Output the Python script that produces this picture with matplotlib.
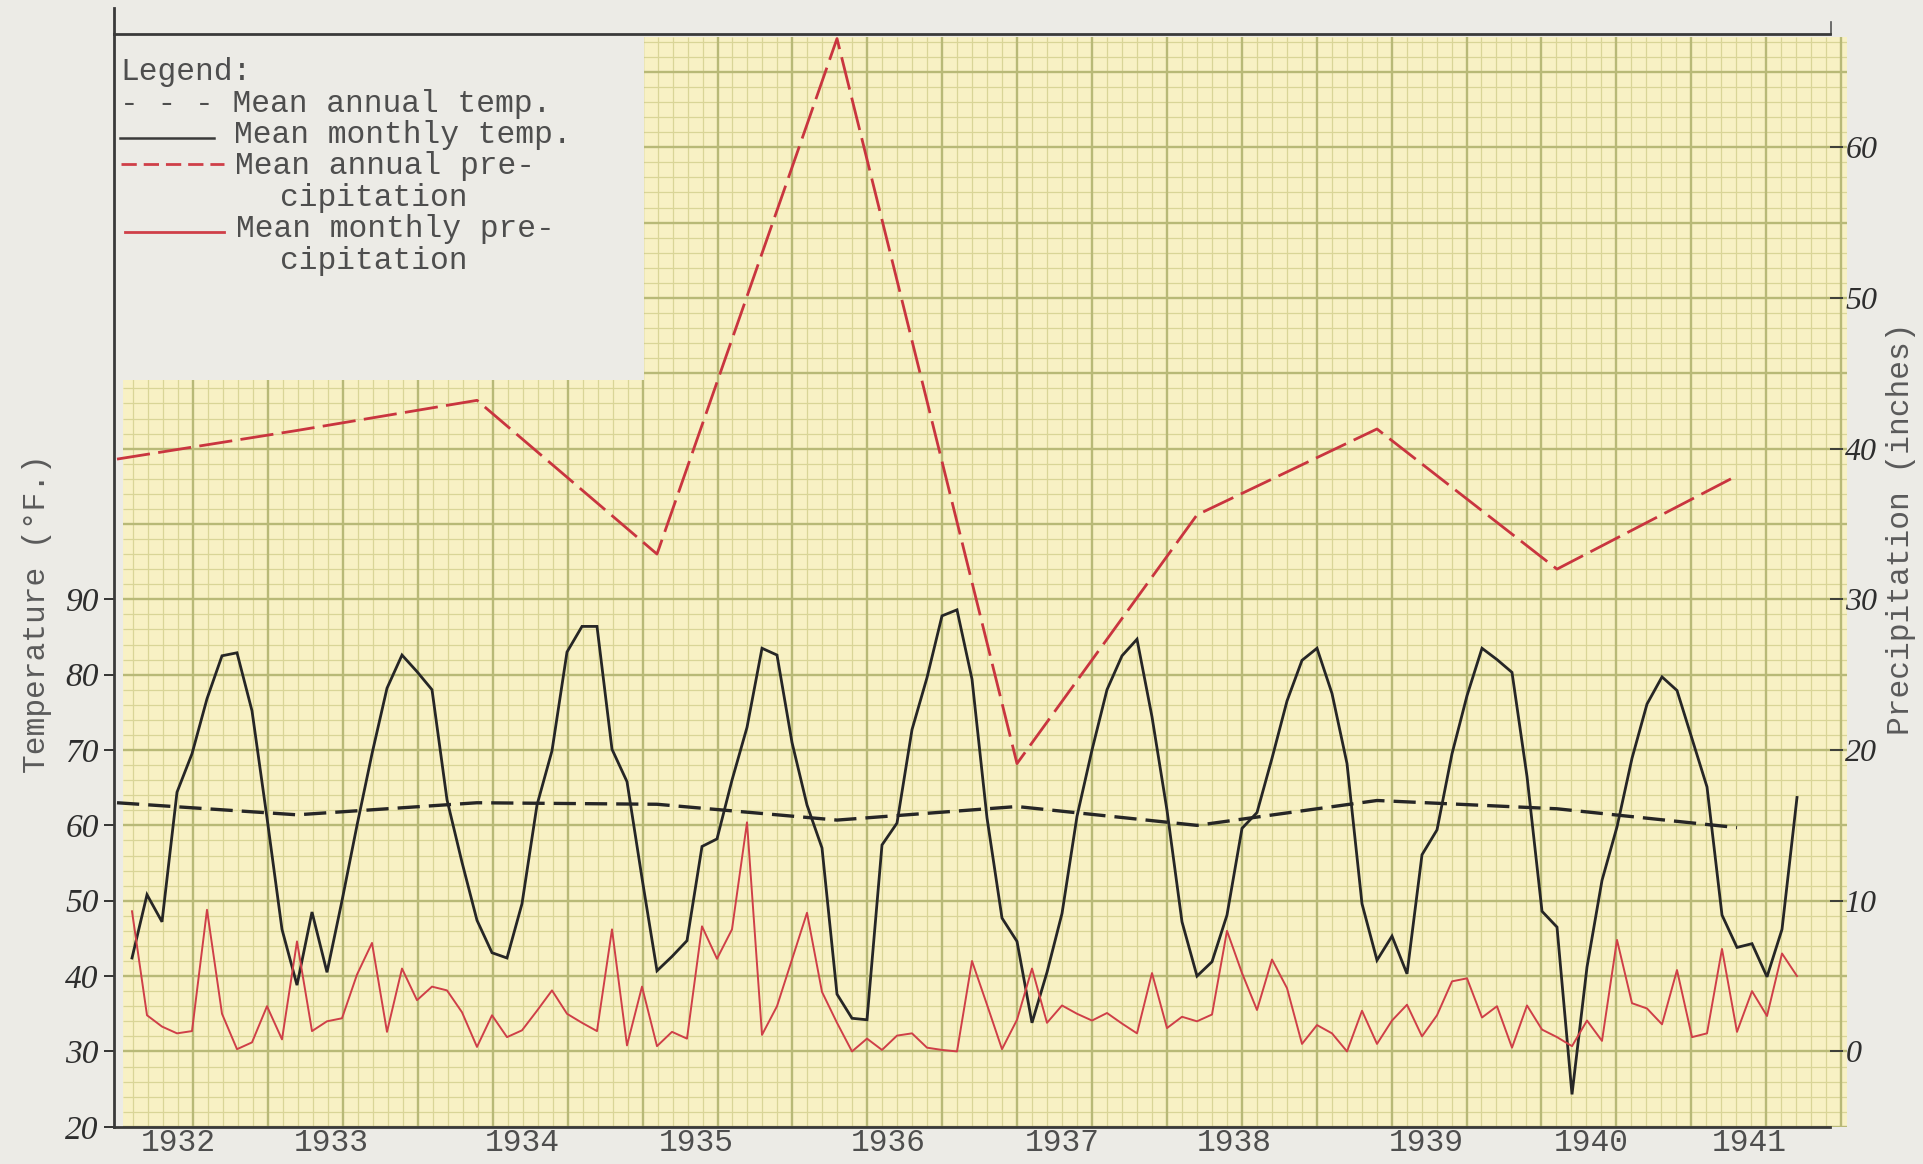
import matplotlib.pyplot as plt
import numpy as np
from matplotlib.patches import Polygon
from matplotlib.collections import LineCollection

plt.rcParams['lines.scale_dashes'] = False

# ---- values ----
# mean monthly temperature (deg F), one value per month, Jan 1932 .. Apr 1941
temp_monthly = [
    42.4, 50.8, 47.2, 64.4, 69.5, 76.8, 82.5, 82.9, 75.2, 61.0, 46.2, 38.8,   # 1932
    48.5, 40.5, 50.0, 60.0, 69.5, 78.2, 82.6, 80.4, 78.0, 63.4, 55.1, 47.4,   # 1933
    43.1, 42.4, 49.6, 62.7, 69.9, 83.0, 86.4, 86.4, 70.1, 65.8, 53.0, 40.7,   # 1934
    42.6, 44.7, 57.2, 58.2, 66.0, 73.0, 83.5, 82.6, 71.0, 62.7, 57.0, 37.6,   # 1935
    34.4, 34.2, 57.4, 60.3, 72.7, 79.6, 87.8, 88.6, 79.4, 61.0, 47.7, 44.6,   # 1936
    33.8, 40.5, 48.3, 61.2, 70.0, 78.0, 82.5, 84.7, 74.4, 62.0, 47.2, 40.0,   # 1937
    41.9, 48.1, 59.6, 61.7, 68.9, 76.5, 81.9, 83.5, 77.5, 68.2, 49.6, 42.1,   # 1938
    45.3, 40.3, 56.1, 59.4, 69.5, 77.2, 83.5, 82.0, 80.3, 66.5, 48.6, 46.5,   # 1939
    24.3, 41.2, 52.7, 59.8, 68.9, 76.1, 79.7, 77.9, 71.5, 65.1, 48.1, 43.8,   # 1940
    44.3, 39.9, 46.2, 63.7,                                                   # 1941
]

# mean monthly precipitation (inches), same months
precip_monthly = [
    9.3, 2.4, 1.65, 1.2, 1.35, 9.4, 2.5, 0.15, 0.6, 3.0, 0.8, 7.3,
    1.35, 2.0, 2.2, 5.1, 7.2, 1.3, 5.5, 3.4, 4.3, 4.05, 2.6, 0.3,
    2.4, 0.95, 1.4, 2.7, 4.05, 2.5, 1.9, 1.35, 8.1, 0.4, 4.3, 0.35,
    1.3, 0.85, 8.3, 6.15, 8.1, 15.2, 1.1, 3.0, 6.1, 9.2, 3.95, 1.9,
    0.0, 0.85, 0.1, 1.05, 1.2, 0.25, 0.1, 0.0, 6.0, 3.1, 0.15, 2.1,
    5.5, 1.9, 3.05, 2.5, 2.05, 2.55, 1.85, 1.2, 5.2, 1.55, 2.3, 2.0,
    2.45, 8.0, 5.2, 2.75, 6.1, 4.2, 0.5, 1.75, 1.2, 0.0, 2.7, 0.5,
    2.05, 3.1, 1.0, 2.4, 4.65, 4.85, 2.25, 3.0, 0.25, 3.05, 1.45, 0.95,
    0.35, 2.05, 0.7, 7.4, 3.2, 2.85, 1.8, 5.4, 0.95, 1.2, 6.8, 1.3,
    4.0, 2.35, 6.5, 5.0,
]

# annual means, plotted at December of each year
annual_years = [1931, 1932, 1933, 1934, 1935, 1936, 1937, 1938, 1939, 1940]
temp_annual = [63.0, 61.4, 63.0, 62.8, 60.7, 62.5, 60.0, 63.3, 62.2, 59.7]
precip_annual = [39.3, 41.2, 43.2, 33.0, 67.2, 19.1, 35.6, 41.3, 32.0, 38.2]

year_labels = ['1932', '1933', '1934', '1935', '1936', '1937', '1938', '1939', '1940', '1941']
year_label_pos = [3.1, 13.3, 26.0, 37.6, 50.4, 62.0, 73.5, 86.3, 97.3, 107.8]  # typed, a bit uneven
temp_ticks = [20, 30, 40, 50, 60, 70, 80, 90]
precip_ticks = [0, 10, 20, 30, 40, 50, 60]

# ---- layout (pixels of the 1923x1164 sheet) ----
W, H = 1923, 1164
X0, DX = 132, 15.0          # pixel of Jan 1932, pixels per month
Y20, DY = 1126.8, 7.536     # pixel of 20 F, pixels per degree F
L, R, TOP = 114, 1830, 34

MONO = 'Liberation Mono'
HAND = 'Liberation Serif'
TYPE_C = '#4e4e4e'
INK = '#2e2e2e'
RED = '#cf3f48'

fig = plt.figure(figsize=(W / 100, H / 100), dpi=100, facecolor='#ecebe6')

# graph paper layer, pixel coords
bg = fig.add_axes([0, 0, 1, 1], zorder=0)
bg.set_xlim(0, W)
bg.set_ylim(H, 0)
bg.axis('off')

paper = Polygon([(644, 37), (1847, 37), (1847, 1127), (123, 1127), (123, 380), (644, 380)],
                closed=True, fc='#f8f1c4', ec='none')
bg.add_patch(paper)

vx = 193.2 + 14.98 * np.arange(-4, 112)
vx = vx[vx <= 1847]
hy = Y20 - 15.07 * np.arange(0, 73)
minor, major = [], []
for k, x in zip(np.arange(-4, 112), vx):
    (major if k % 5 == 0 else minor).append([(x, 37), (x, 1127)])
for j, y in enumerate(hy):
    (major if j % 5 == 0 else minor).append([(123, y), (1847, y)])
for segs, col, lw in [(minor, '#d9d597', 0.9), (major, '#b8b977', 1.7)]:
    lc = LineCollection(segs, colors=col, linewidths=lw)
    bg.add_collection(lc)
    lc.set_clip_path(paper)

# spine bits that run past the axes box
bg.plot([L, L], [8, TOP], color='#3a3a3a', lw=2.0)
bg.plot([1831, 1831], [22, TOP], color='#555555', lw=1.2)

# typed legend in the white corner
legend_lines = [
    (120, 72, 'Legend:'),
    (120, 104, '- - - Mean annual temp.'),
    (234, 135, 'Mean monthly temp.'),
    (235, 166, 'Mean annual pre-'),
    (280, 198, 'cipitation'),
    (236, 229, 'Mean monthly pre-'),
    (280, 261, 'cipitation'),
]
for x, y, s in legend_lines:
    bg.text(x, y, s, family=MONO, fontsize=22.5, color=TYPE_C, va='center', ha='left')
bg.plot([120, 214], [138, 138], color='#3a3a3a', lw=1.8)
bg.plot([121, 224], [164, 164], color=RED, lw=2.0, ls=(0, (11, 5)))
bg.plot([125, 224], [232, 232], color=RED, lw=2.0)

# ---- data axes ----
ax = fig.add_axes([L / W, (H - Y20) / H, (R - L) / W, (Y20 - TOP) / H], zorder=2)
ax.patch.set_visible(False)
ax.set_xlim((L - X0) / DX, (R - X0) / DX)
ax.set_ylim(20, 20 + (Y20 - TOP) / DY)

months = np.arange(len(temp_monthly))
annual_x = (np.array(annual_years) - 1932) * 12 + 11

ax.plot(months, temp_monthly, color='#262626', lw=2.0, solid_joinstyle='miter')
ax.plot(annual_x, temp_annual, color='#262626', lw=2.4, ls=(0, (16, 6.5)))

for side in ['left', 'bottom', 'top']:
    ax.spines[side].set_color('#3a3a3a')
    ax.spines[side].set_linewidth(2.0)
ax.spines['right'].set_visible(False)

ax.set_yticks(temp_ticks, labels=[str(t) for t in temp_ticks],
              fontfamily=HAND, fontstyle='italic', fontsize=24, color=INK)
ax.tick_params(axis='y', direction='out', length=7, width=1.4, color='#333333', pad=4)
ax.set_xticks(year_label_pos, labels=year_labels, fontfamily=MONO, fontsize=22.5, color=TYPE_C)
ax.tick_params(axis='x', length=0, pad=1)

ax.set_ylabel('Temperature (°F.)', family=MONO, fontsize=22.5, color='#5a5a5a')
ax.yaxis.set_label_coords((37 - L) / (R - L), (Y20 - 614) / (Y20 - TOP))
ax.yaxis.label.set_verticalalignment('center')

# precipitation on a second scale: 0 in. sits at 30 F, 10 in. per 20 F
ax2 = ax.twinx()
lo, hi = ax.get_ylim()
ax2.set_ylim((lo - 30) / 2, (hi - 30) / 2)
ax2.plot(months, precip_monthly, color=RED, lw=1.4)
ax2.plot(annual_x, precip_annual, color='#c9353f', lw=2.0, ls=(0, (24, 6)))
for s in ax2.spines.values():
    s.set_visible(False)
ax2.set_yticks(precip_ticks, labels=[str(t) for t in precip_ticks],
               fontfamily=HAND, fontstyle='italic', fontsize=23, color=INK)
ax2.tick_params(axis='y', direction='out', length=9, width=1.3, color='#333333', pad=2)
ax2.set_ylabel('Precipitation (inches)', family=MONO, fontsize=22.5, color='#5a5a5a')
ax2.yaxis.set_label_coords((1901 - L) / (R - L), (Y20 - 529) / (Y20 - TOP))
ax2.yaxis.label.set_verticalalignment('center')

fig.savefig('out.png', dpi=100, facecolor=fig.get_facecolor())
